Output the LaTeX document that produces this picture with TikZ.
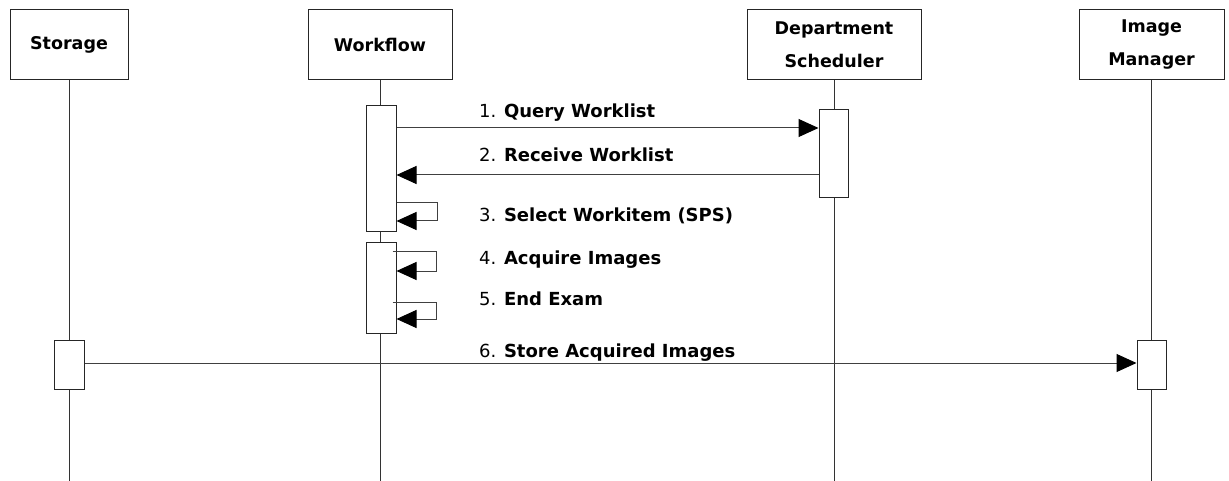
\documentclass[tikz,border=0pt]{standalone}
\usepackage{fontspec}
\setmainfont{DejaVu Sans}
\usetikzlibrary{arrows.meta}
\tikzset{
    head/.style={draw=black!85, line width=1pt, fill=white, align=center, minimum height=70pt, inner sep=0pt, font=\fontsize{17.5}{33}\selectfont\bfseries},
    act/.style={draw=black!85, line width=1pt, fill=white, minimum width=30pt, inner sep=0pt},
    life/.style={draw=black!80, line width=1pt},
    msg/.style={draw=black!75, line width=1pt, -{Triangle[length=20pt, width=18pt, color=black]}},
    lbl/.style={anchor=base west, inner sep=0pt, font=\fontsize{18}{20}\selectfont}
}
\begin{document}
\begin{tikzpicture}[x=1pt, y=-1pt]
    \useasboundingbox (0,0) rectangle (1229,481);
    % participants
    \node[head, minimum width=118pt] (storage) at (69,45) {Storage};
    \node[head, minimum width=144pt] (workflow) at (380,45) {Workflow};
    \node[head, minimum width=174pt] (sched) at (834,45) {Department\\Scheduler};
    \node[head, minimum width=145pt] (imgmgr) at (1151.5,45) {Image\\Manager};
    \coordinate (bottom) at (0,481);
    \draw[life] (storage) -- (storage |- bottom);
    \draw[life] (workflow) -- (workflow |- bottom);
    \draw[life] (sched) -- (sched |- bottom);
    \draw[life] (imgmgr) -- (imgmgr |- bottom);
    % activations
    \node[act, minimum height=126pt] (wf1) at (381,169) {};
    \node[act, minimum height=90pt] (wf2) at (381,288) {};
    \node[act, minimum width=29pt, minimum height=88pt] (ds) at (833.5,154) {};
    \node[act, minimum height=49pt] (st) at (69,364.5) {};
    \node[act, minimum width=29pt, minimum height=49pt] (im) at (1151.5,364.5) {};
    % messages
    \coordinate (m1) at (0,128);
    \coordinate (m2) at (0,175);
    \coordinate (m6) at (0,363);
    \draw[msg] (wf1.east |- m1) -- (ds.west |- m1);
    \draw[msg] (ds.west |- m2) -- (wf1.east |- m2);
    \draw[msg] (st.east |- m6) -- (im.west |- m6);
    % self calls
    \coordinate (s3) at (0,203);
    \coordinate (s4) at (0,252);
    \coordinate (s5) at (0,302);
    \draw[msg] (wf1.east |- s3) -- ++(41,0) -- ++(0,18) -- (wf1.east |- 0,221);
    \draw[msg] ([xshift=-4pt]wf2.east |- s4) -- ++(44,0) -- ++(0,19) -- (wf2.east |- 0,271);
    \draw[msg] ([xshift=-4pt]wf2.east |- s5) -- ++(44,0) -- ++(0,17) -- (wf2.east |- 0,319);
    % labels
    \node[lbl] (l1) at (479,118) {1. \textbf{Query Worklist}};
    \node[lbl] (l2) at (479,162) {2. \textbf{Receive Worklist}};
    \node[lbl] (l3) at (479,222) {3. \textbf{Select Workitem (SPS)}};
    \node[lbl] (l4) at (479,265) {4. \textbf{Acquire Images}};
    \node[lbl] (l5) at (479,305) {5. \textbf{End Exam}};
    \node[lbl] (l6) at (479,357) {6. \textbf{Store Acquired Images}};
\end{tikzpicture}
\end{document}
